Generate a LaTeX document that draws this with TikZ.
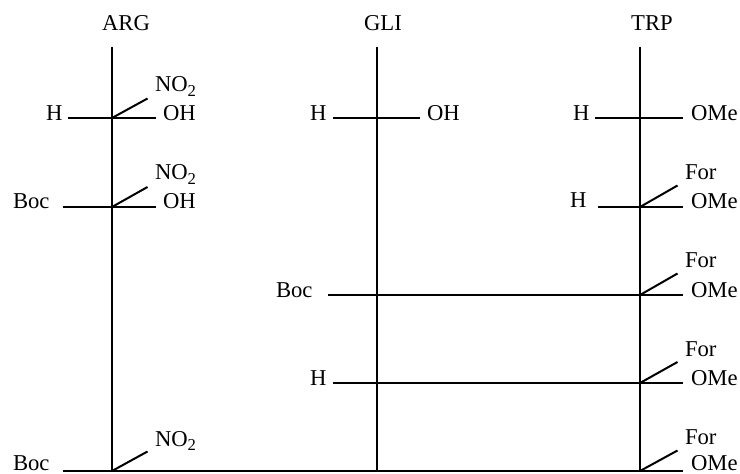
\documentclass[tikz,border=0pt]{standalone}
\usepackage{fontspec}
\setmainfont{Liberation Serif}
\newcommand{\nitro}{NO\raisebox{-3.6pt}{\fontsize{12.5}{14}\selectfont 2}}
\tikzset{
  bond/.style={line width=1.5pt,line cap=butt,black},
  lbl/.style={inner sep=0pt,outer sep=0pt,font=\fontsize{17}{20}\selectfont,text=black},
  lw/.style={lbl,anchor=base west},
  lc/.style={lbl,anchor=base}
}
\begin{document}
\begin{tikzpicture}[x=0.75pt,y=-0.75pt]
\useasboundingbox (0,0) rectangle (740,474);
% chain anchors
\coordinate (at) at (112,47); \coordinate (gt) at (377,47); \coordinate (tt) at (640,47);
\coordinate (a1) at (112,118); \coordinate (a2) at (112,207); \coordinate (a5) at (112,471);
\coordinate (g1) at (377,118); \coordinate (g3) at (377,295); \coordinate (g4) at (377,383); \coordinate (g5) at (377,471);
\coordinate (t1) at (640,118); \coordinate (t2) at (640,207); \coordinate (t3) at (640,295); \coordinate (t4) at (640,383); \coordinate (t5) at (640,471);
% free ends
\coordinate (a1l) at (68,118); \coordinate (a1r) at (156,118); \coordinate (a1d) at (147.5,98.5);
\coordinate (a2l) at (63,207); \coordinate (a2r) at (156,207); \coordinate (a2d) at (147.5,187);
\coordinate (a5l) at (63,471); \coordinate (a5d) at (147.5,451.5);
\coordinate (g1l) at (333,118); \coordinate (g1r) at (420,118);
\coordinate (g3l) at (328,295); \coordinate (g4l) at (333,383);
\coordinate (t1l) at (595,118); \coordinate (t1r) at (683,118);
\coordinate (t2l) at (598,207); \coordinate (t2r) at (683,207); \coordinate (t2d) at (677.5,185.5);
\coordinate (t3r) at (683,295); \coordinate (t3d) at (677.5,273.5);
\coordinate (t4r) at (683,383); \coordinate (t4d) at (677.5,362);
\coordinate (t5r) at (683,471); \coordinate (t5d) at (677.5,450.5);
% labels
\node[lc] (ARG) at (126,31) {ARG};
\node[lc] (GLI) at (383,31) {GLI};
\node[lc] (TRP) at (652,31) {TRP};
\node[lw] (no1) at (155,92) {\nitro};
\node[lw] (oh1) at (163,121) {OH};
\node[lw] (h1) at (46,121) {H};
\node[lw] (no2) at (155,180) {\nitro};
\node[lw] (oh2) at (163,209) {OH};
\node[lw] (boc2) at (13,209) {Boc};
\node[lw] (no5) at (155,446) {\nitro};
\node[lw] (boc5) at (13,470.5) {Boc};
\node[lw] (hg) at (310,121) {H};
\node[lw] (ohg) at (427,121) {OH};
\node[lw] (boc3) at (276,298) {Boc};
\node[lw] (h4) at (310,386) {H};
\node[lw] (ht) at (573,121) {H};
\node[lw] (ome1) at (691,121) {OMe};
\node[lw] (h2) at (570,208) {H};
\node[lw] (for2) at (685,180) {For};
\node[lw] (ome2) at (691,209) {OMe};
\node[lw] (for3) at (685,268) {For};
\node[lw] (ome3) at (691,298) {OMe};
\node[lw] (for4) at (685,357) {For};
\node[lw] (ome4) at (691,386) {OMe};
\node[lw] (for5) at (685,445) {For};
\node[lw] (ome5) at (691,470.5) {OMe};
% bonds
\draw[bond] (at) -- (a5);
\draw[bond] (gt) -- (g5);
\draw[bond] (tt) -- (t5);
\draw[bond] (a1l) -- (a1r);
\draw[bond] (a1) -- (a1d);
\draw[bond] (a2l) -- (a2r);
\draw[bond] (a2) -- (a2d);
\draw[bond] (a5l) -- (t5r);
\draw[bond] (a5) -- (a5d);
\draw[bond] (g1l) -- (g1r);
\draw[bond] (g3l) -- (t3r);
\draw[bond] (g4l) -- (t4r);
\draw[bond] (t1l) -- (t1r);
\draw[bond] (t2l) -- (t2r);
\draw[bond] (t2) -- (t2d);
\draw[bond] (t3) -- (t3d);
\draw[bond] (t4) -- (t4d);
\draw[bond] (t5) -- (t5d);
\end{tikzpicture}
\end{document}
